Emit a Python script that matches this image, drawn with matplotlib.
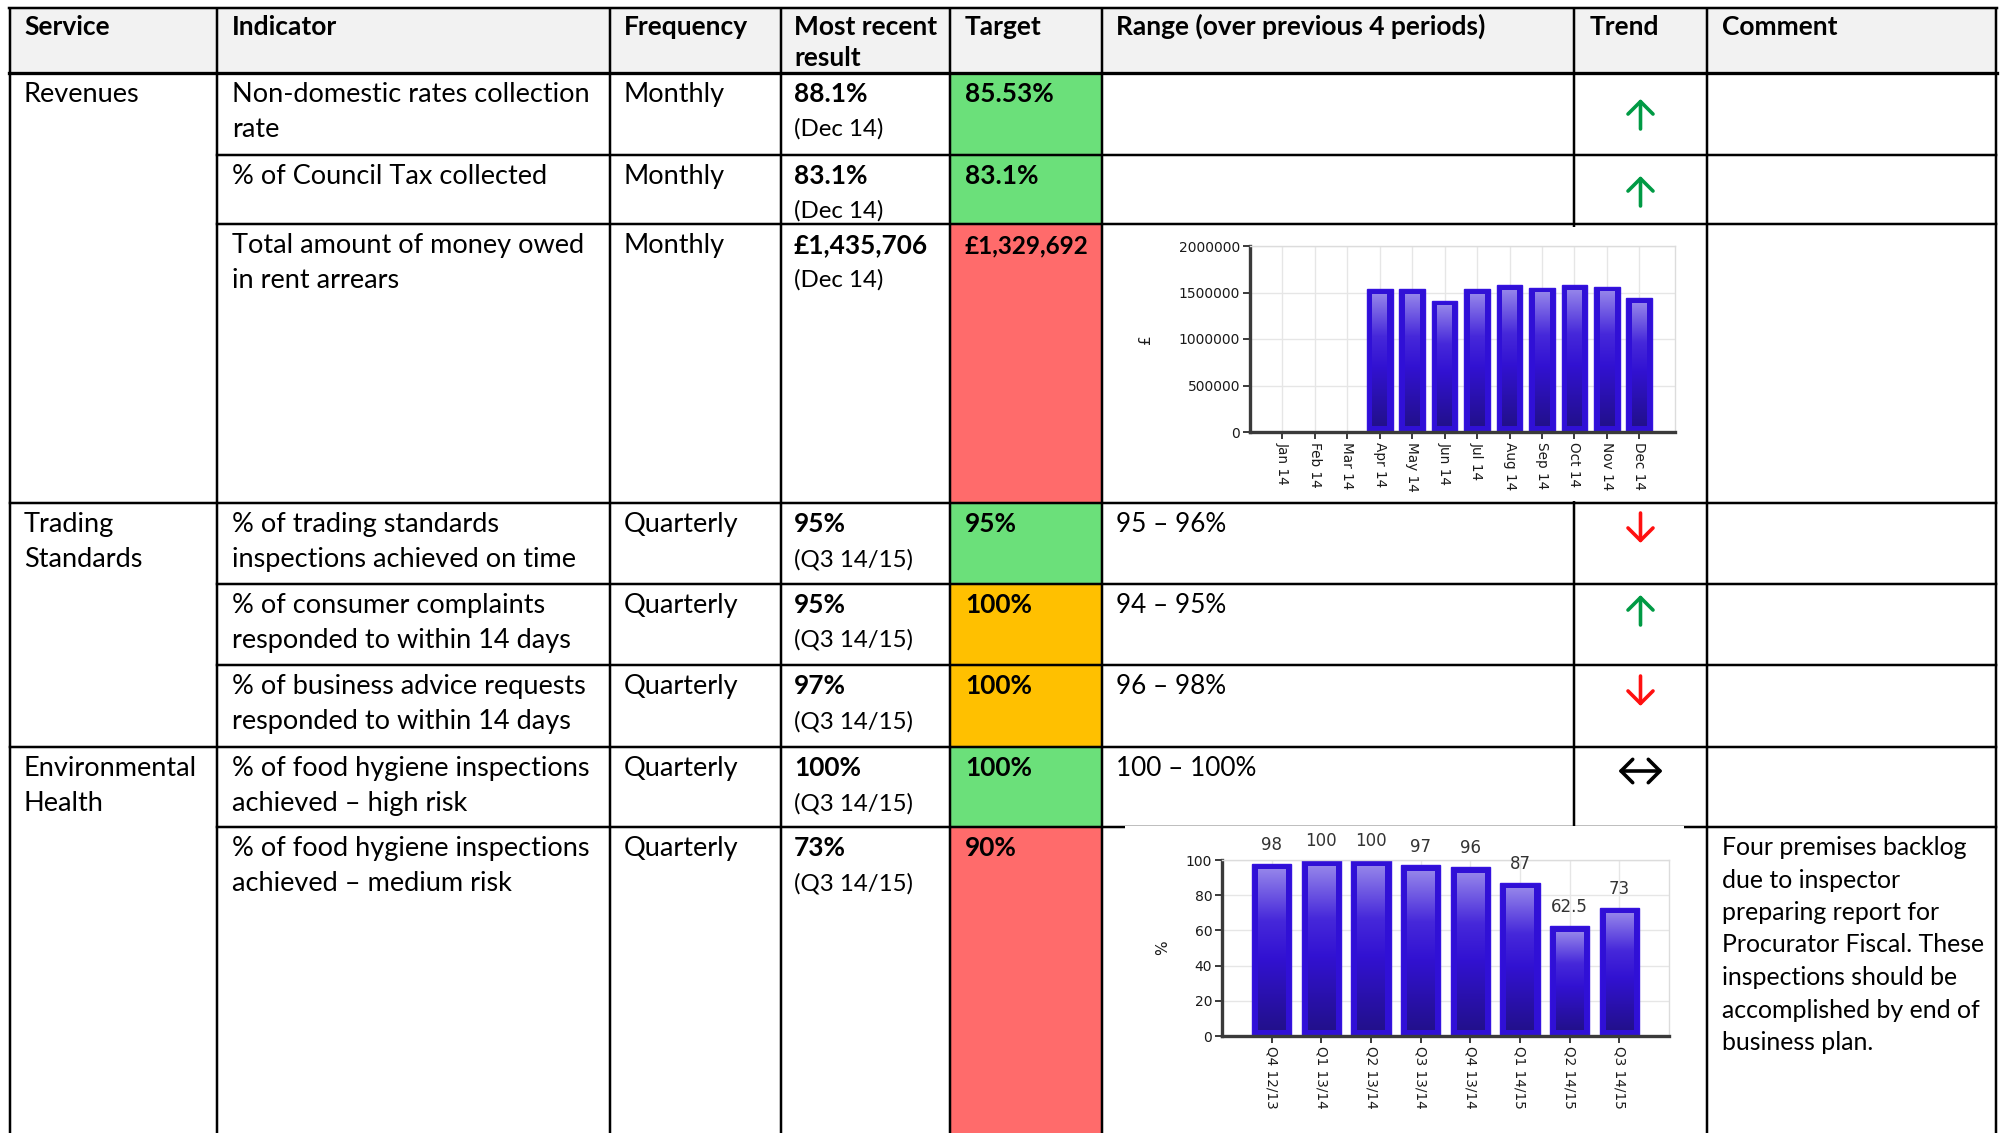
import numpy as np
import matplotlib
matplotlib.use("Agg")
import matplotlib.pyplot as plt
from matplotlib.patches import Rectangle
from matplotlib.colors import LinearSegmentedColormap

# ---------------- data ----------------
services = ["Revenues", "Trading\nStandards", "Environmental\nHealth"]
service_rows = [0, 3, 6]
indicators = [
    "Non-domestic rates collection\nrate",
    "% of Council Tax collected",
    "Total amount of money owed\nin rent arrears",
    "% of trading standards\ninspections achieved on time",
    "% of consumer complaints\nresponded to within 14 days",
    "% of business advice requests\nresponded to within 14 days",
    "% of food hygiene inspections\nachieved \u2013 high risk",
    "% of food hygiene inspections\nachieved \u2013 medium risk",
]
frequencies = ["Monthly"] * 3 + ["Quarterly"] * 5
results = ["88.1%", "83.1%", "\u00a31,435,706", "95%", "95%", "97%", "100%", "73%"]
periods = ["(Dec 14)"] * 3 + ["(Q3 14/15)"] * 5
targets = ["85.53%", "83.1%", "\u00a31,329,692", "95%", "100%", "100%", "100%", "90%"]
status = ["green", "green", "red", "green", "amber", "amber", "green", "red"]
ranges = ["", "", None, "95 \u2013 96%", "94 \u2013 95%", "96 \u2013 98%", "100 \u2013 100%", None]
trends = ["up", "up", None, "down", "up", "down", "both", None]
comments = ["", "", "", "", "", "", "",
            "Four premises backlog\ndue to inspector\npreparing report for\nProcurator Fiscal. These\ninspections should be\naccomplished by end of\nbusiness plan."]
headers = ["Service", "Indicator", "Frequency", "Most recent\nresult", "Target",
           "Range (over previous 4 periods)", "Trend", "Comment"]

# rent arrears chart
months = ["Jan 14", "Feb 14", "Mar 14", "Apr 14", "May 14", "Jun 14",
          "Jul 14", "Aug 14", "Sep 14", "Oct 14", "Nov 14", "Dec 14"]
arrears = [np.nan, np.nan, np.nan, 1534000, 1534000, 1409000,
           1534000, 1580000, 1552000, 1580000, 1563000, 1435706]
arrears_ticks = [0, 500000, 1000000, 1500000, 2000000]

# food hygiene medium risk chart
quarters = ["Q4 12/13", "Q1 13/14", "Q2 13/14", "Q3 13/14",
            "Q4 13/14", "Q1 14/15", "Q2 14/15", "Q3 14/15"]
medium_risk = [98, 100, 100, 97, 96, 87, 62.5, 73]
pct_ticks = [0, 20, 40, 60, 80, 100]

# ---------------- layout (pixels) ----------------
W, H = 2005, 1133
col_x = [10, 217, 610, 781, 950, 1102, 1574, 1707, 1996]
text_x = [24, 232, 624, 794, 965, 1116, 1590, 1722]
head_top, head_bot = 8, 73
row_top = [73, 155, 224, 503, 584, 665, 747, 827]
row_bot = row_top[1:] + [H + 5]
arrow_cy = [114, 191, None, 528, 610, 691, 771, None]

status_col = {"green": "#6be07a", "red": "#ff6b6b", "amber": "#ffc000"}
arrow_col = {"up": "#009a44", "down": "#ff1010", "both": "#000000"}

FONT = "Lato"
FS = 19.5        # body regular
FS_BOLD = 18.9   # body bold values
FS_PER = 17.3    # period notes
FS_RANGE = 18.8  # range text
FSH = 19.0       # header
FSC = 17.9       # comment
PX = 0.72        # points per pixel at 100 dpi
CELL_PAD = 14

fig = plt.figure(figsize=(W / 100, H / 100), dpi=100)
tab = fig.add_axes([0, 0, 1, 1])
tab.set_xlim(0, W)
tab.set_ylim(H, 0)
tab.axis("off")
renderer = fig.canvas.get_renderer()

# header background
tab.add_patch(Rectangle((col_x[0], head_top), col_x[-1] - col_x[0], head_bot - head_top,
                        facecolor="#f2f2f2", edgecolor="none", zorder=0))
# target fills
for i, st in enumerate(status):
    tab.add_patch(Rectangle((col_x[4], row_top[i]), col_x[5] - col_x[4],
                            row_bot[i] - row_top[i], facecolor=status_col[st],
                            edgecolor="none", zorder=0))

LW = 2.5 * PX
for x in col_x:
    tab.plot([x, x], [head_top - 1, H + 5], color="black", lw=LW, zorder=2,
             solid_capstyle="butt")
tab.plot([col_x[0] - 1, col_x[-1] + 1], [head_top, head_top], color="black", lw=LW, zorder=2)
tab.plot([col_x[0] - 1, col_x[-1] + 1], [head_bot, head_bot], color="black", lw=3.3 * PX, zorder=2)
for i in range(1, len(row_top)):
    x0 = col_x[0] if i in service_rows else col_x[1]
    tab.plot([x0, col_x[-1]], [row_top[i], row_top[i]], color="black", lw=LW, zorder=2)

# chart image backgrounds (cover lines)
tab.add_patch(Rectangle((1122, 227), 1689 - 1122, 501 - 227, facecolor="white",
                        edgecolor="none", zorder=3))
tab.add_patch(Rectangle((1125, 826), 1684 - 1125, H - 826 + 5, facecolor="white",
                        edgecolor="none", zorder=3))

def put(x, base, s, size=FS, bold=False, spacing=35, max_w=None):
    for k, line in enumerate(s.split("\n")):
        t = tab.text(x, base + k * spacing, line, fontsize=size, family=FONT,
                     fontweight="bold" if bold else "normal", ha="left", va="baseline",
                     color="black", zorder=5)
        if max_w is not None:
            w = t.get_window_extent(renderer).width
            if w > max_w:
                t.set_fontsize(size * max_w / w)

for j, h in enumerate(headers):
    put(text_x[j], head_top + 27, h, size=FSH, bold=True, spacing=31)

for s, r in zip(services, service_rows):
    put(text_x[0], row_top[r] + 29, s)

target_w = col_x[5] - col_x[4] - 2 * CELL_PAD
for i in range(len(indicators)):
    b = row_top[i] + 29
    put(text_x[1], b, indicators[i])
    put(text_x[2], b, frequencies[i])
    put(text_x[3], b, results[i], size=FS_BOLD, bold=True)
    put(text_x[3], b + 34, periods[i], size=FS_PER)
    put(text_x[4], b, targets[i], size=FS_BOLD, bold=True, max_w=target_w)
    if ranges[i]:
        put(text_x[5], b, ranges[i], size=FS_RANGE)
    if comments[i]:
        put(text_x[7], b - 1, comments[i], size=FSC, spacing=32.5)
    t = trends[i]
    if t:
        cx = (col_x[6] + col_x[7]) / 2
        cy = arrow_cy[i]
        if t == "both":
            tab.annotate("", xy=(cx + 22, cy), xytext=(cx - 22, cy),
                         arrowprops=dict(arrowstyle="<->,head_length=0.42,head_width=0.42",
                                         lw=3.6 * PX, color=arrow_col[t],
                                         shrinkA=0, shrinkB=0, mutation_scale=20),
                         zorder=5)
        else:
            tip, tail = (cy - 15, cy + 15) if t == "up" else (cy + 15, cy - 15)
            tab.annotate("", xy=(cx, tip), xytext=(cx, tail),
                         arrowprops=dict(arrowstyle="->,head_length=0.45,head_width=0.45",
                                         lw=3.6 * PX, color=arrow_col[t],
                                         shrinkA=0, shrinkB=0, mutation_scale=20),
                         zorder=5)

# ---------------- embedded bar charts ----------------
grad_cmap = LinearSegmentedColormap.from_list(
    "bargrad", [(0.0, "#9484ea"), (0.32, "#4628da"), (0.55, "#3212d2"), (1.0, "#22108c")])
grad = np.linspace(0, 1, 256).reshape(-1, 1)

def add_chart(px_left, px_right, px_top, px_bot):
    return fig.add_axes([px_left / W, 1 - px_bot / H, (px_right - px_left) / W,
                         (px_bot - px_top) / H], zorder=10)

def style_chart(ax, cats, yticks, ymax, xmax, ylabel, label_x):
    ax.set_xlim(-1, xmax)
    ax.set_ylim(0, ymax)
    ax.set_xticks(range(len(cats)))
    ax.set_xticklabels(cats, rotation=-90, fontsize=9.8, color="#1a1a1a")
    ax.set_yticks(yticks)
    ax.set_yticklabels([str(v) for v in yticks], fontsize=10, color="#1a1a1a")
    ax.grid(True, color="#e6e6e6", lw=1.0, zorder=0)
    ax.set_axisbelow(True)
    for sp in ["top", "right"]:
        ax.spines[sp].set_color("#dcdcdc")
        ax.spines[sp].set_linewidth(1.0)
    for sp in ["left", "bottom"]:
        ax.spines[sp].set_color("#3a3a3a")
        ax.spines[sp].set_linewidth(2.4)
    ax.tick_params(axis="both", length=5, width=1.4, color="#3a3a3a", pad=2)
    ax.set_ylabel(ylabel, fontsize=11, color="#1a1a1a")
    ax.yaxis.set_label_coords(label_x, 0.5)
    ax.set_facecolor("white")

def draw_bars(ax, vals, width=0.79, inset_px=5.5):
    xs = np.arange(len(vals))
    ax.bar(xs, vals, width=width, color="#3010d6", edgecolor="#3512e0", lw=1.0, zorder=2)
    bb = ax.get_position()
    ax_w = bb.width * W
    ax_h = bb.height * H
    x0, x1 = ax.get_xlim()
    y0, y1 = ax.get_ylim()
    dx = inset_px * (x1 - x0) / ax_w
    dy = inset_px * (y1 - y0) / ax_h
    for x, v in zip(xs, vals):
        if np.isnan(v):
            continue
        ax.imshow(grad, extent=(x - width / 2 + dx, x + width / 2 - dx, dy, v - dy),
                  cmap=grad_cmap, aspect="auto", interpolation="bilinear", zorder=3)
    ax.set_xlim(x0, x1)
    ax.set_ylim(y0, y1)
    return xs

ax1 = add_chart(1250, 1675, 246, 432)
style_chart(ax1, months, arrears_ticks, 2000000, 12.1, "\u00a3", -(1250 - 1153) / 425)
draw_bars(ax1, arrears, inset_px=5.5)

ax2 = add_chart(1222, 1669, 860, 1036)
style_chart(ax2, quarters, pct_ticks, 100, 8, "%", -(1222 - 1170) / 447)
xs2 = draw_bars(ax2, medium_risk, inset_px=6)
for x, v in zip(xs2, medium_risk):
    ax2.annotate(f"{v:g}", xy=(x, v), xytext=(0, 7), textcoords="offset points",
                 ha="center", va="bottom", fontsize=12, color="#333333",
                 annotation_clip=False, clip_on=False)

fig.savefig("out.png", dpi=100, facecolor="white")
